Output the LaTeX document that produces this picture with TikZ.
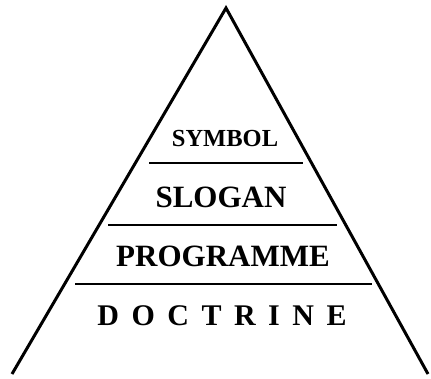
\documentclass[tikz,border=0pt]{standalone}
\usepackage{fontspec}
\setmainfont{Liberation Serif}
\usetikzlibrary{calc}
\colorlet{colTinta}{black}
\tikzset{
  ladoPiramide/.style={draw=colTinta, line width=3pt, line join=miter},
  lineaNivel/.style={draw=colTinta, line width=2.4pt},
  textoNivel/.style={anchor=base, inner sep=0pt, text=colTinta,
    font=\bfseries\fontsize{31}{31}\selectfont},
}
\newcommand{\espacioLetra}{\hspace{12.5pt}}

\begin{document}
\begin{tikzpicture}[x=1pt, y=-1pt]
  \useasboundingbox (0,0) rectangle (431,379);
  % sides of the pyramid
  \coordinate (cima) at (226,8);
  \coordinate (baseIzq) at (12,374);
  \coordinate (baseDer) at (428,374);
  \draw[ladoPiramide] (baseIzq) -- (cima) -- (baseDer);
  % levels
  \node[textoNivel, font=\bfseries\fontsize{24.5}{24.5}\selectfont] (simbolo) at (225,147) {SYMBOL};
  \node[textoNivel] (lema) at (221,208) {SLOGAN};
  \node[textoNivel] (programa) at (223,267) {PROGRAMME};
  \node[textoNivel, font=\bfseries\fontsize{30}{30}\selectfont] (doctrina) at (222,325)
    {D\espacioLetra O\espacioLetra C\espacioLetra T\espacioLetra R\espacioLetra I\espacioLetra N\espacioLetra E};
  % dividing lines
  \coordinate (linea1Izq) at (149,163);
  \coordinate (linea1Der) at (303,163);
  \coordinate (linea2Izq) at (108,225);
  \coordinate (linea2Der) at (337,225);
  \coordinate (linea3Izq) at (75,284);
  \coordinate (linea3Der) at (372,284);
  \draw[lineaNivel] (linea1Izq) -- (linea1Der);
  \draw[lineaNivel] (linea2Izq) -- (linea2Der);
  \draw[lineaNivel] (linea3Izq) -- (linea3Der);
\end{tikzpicture}
\end{document}
